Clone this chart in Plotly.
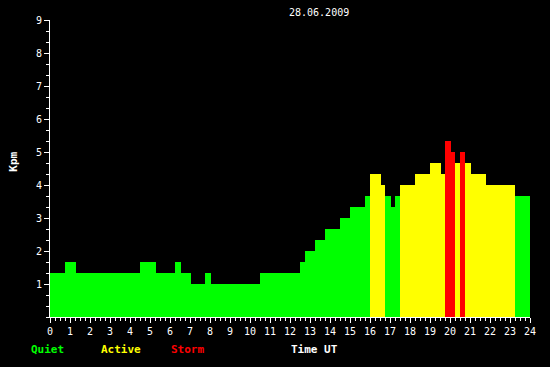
import plotly.graph_objects as go

# Segment start times (hours UT) and Kpm values; last entry in ends marks end of last bar
seg_start = [0, 0.75, 1.3, 4.5, 5.3, 6.25, 6.55, 7.05, 7.75, 8.05, 10.5, 12.5, 12.75,
             13.25, 13.75, 14.5, 15.0, 15.75, 16.0, 16.55, 16.75, 17.05, 17.25, 17.5,
             18.25, 19.0, 19.55, 19.75, 20.05, 20.25, 20.5, 20.75, 21.05, 21.8, 23.25]
seg_end_last = 24.05
kpm = [4/3, 5/3, 4/3, 5/3, 4/3, 5/3, 4/3, 1, 4/3, 1, 4/3, 5/3, 2,
       7/3, 8/3, 3, 10/3, 11/3, 13/3, 4, 11/3, 10/3, 11/3, 4,
       13/3, 14/3, 13/3, 16/3, 5, 14/3, 5, 14/3, 13/3, 4, 11/3]
date_label = "28.06.2009"
x_ticks = list(range(0, 25))
y_ticks = list(range(1, 10))

GREEN, YELLOW, RED = "#00ff00", "#ffff00", "#ff0000"

ends = seg_start[1:] + [seg_end_last]
widths = [e - s for s, e in zip(seg_start, ends)]
colors = [RED if v >= 5 - 1e-9 else (YELLOW if v >= 4 - 1e-9 else GREEN) for v in kpm]

fig = go.Figure(go.Bar(x=seg_start, y=kpm, width=widths, offset=0,
                       marker=dict(color=colors, line=dict(width=0)),
                       hoverinfo="skip"))

font = dict(family="DejaVu Sans Mono", size=10, color="white")
fig.update_layout(
    width=550, height=367,
    margin=dict(l=50, r=20, t=20, b=50),
    paper_bgcolor="black", plot_bgcolor="black",
    showlegend=False,
    font=font,
    bargap=0,
    xaxis=dict(range=[0, 24], tickvals=x_ticks, ticktext=[str(t) for t in x_ticks],
               showgrid=False, zeroline=False, showline=True, linecolor="white", linewidth=1,
               ticks="outside", ticklen=5, tickcolor="white", tickwidth=1,
               minor=dict(dtick=0.25, tick0=0, ticks="outside", ticklen=3, tickcolor="white"),
               tickfont=font),
    yaxis=dict(range=[0, 9], tickvals=y_ticks, showgrid=False, zeroline=False,
               showline=True, linecolor="white", linewidth=1,
               ticks="outside", ticklen=5, tickcolor="white", tickwidth=1,
               minor=dict(dtick=1/3, tick0=0, ticks="outside", ticklen=3, tickcolor="white"),
               tickfont=font),
)

bold = dict(family="DejaVu Sans Mono", size=11, weight="bold")
ann = [
    dict(text=date_label, x=0.5604, y=1.025, font=dict(family="DejaVu Sans Mono", size=10, color="white")),
    dict(text="Quiet", x=-0.006, y=-0.11, font=dict(**bold, color=GREEN)),
    dict(text="Active", x=0.147, y=-0.11, font=dict(**bold, color=YELLOW)),
    dict(text="Storm", x=0.286, y=-0.11, font=dict(**bold, color=RED)),
    dict(text="Time UT", x=0.551, y=-0.11, font=dict(**bold, color="white")),
    dict(text="Kpm", x=-0.075, y=0.523, textangle=-90, font=dict(**bold, color="white")),
]
for a in ann:
    fig.add_annotation(xref="paper", yref="paper", showarrow=False,
                       xanchor="center", yanchor="middle", **a)

fig.write_html("out.html", config={"displayModeBar": False},
               post_script="document.body.style.margin='0px';document.body.style.background='black';")
